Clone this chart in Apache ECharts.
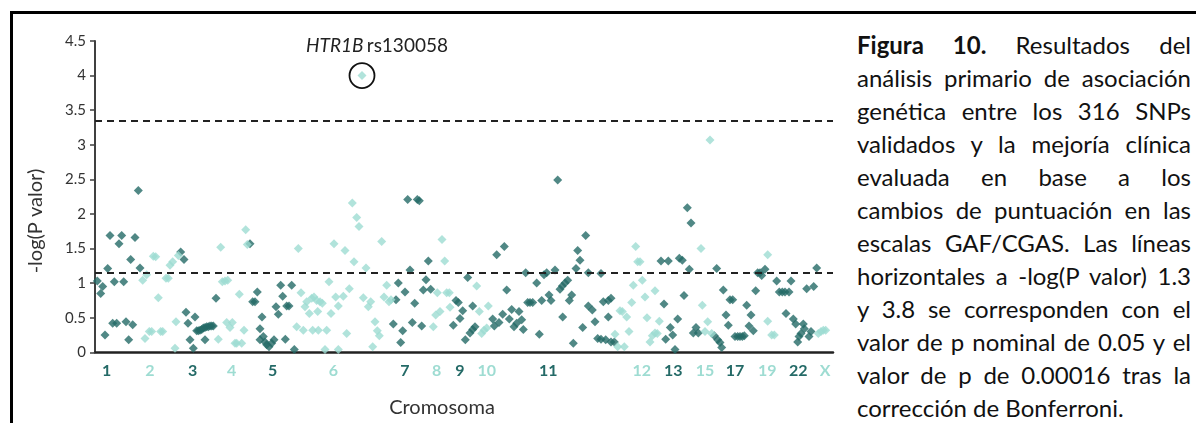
<!DOCTYPE html>
<html>
<head>
<meta charset="utf-8">
<script src="https://cdn.jsdelivr.net/npm/echarts@6/dist/echarts.min.js"></script>
<style>
  html, body { margin: 0; padding: 0; width: 1196px; height: 423px; overflow: hidden; background: #fff; }
  #frame { position: absolute; left: 10px; top: 11px; width: 1400px; height: 600px;
           border-top: 3px solid #000; border-left: 3px solid #000; }
  #chart { position: absolute; left: 0; top: 0; width: 850px; height: 423px; }
  #caption { position: absolute; left: 857px; top: 28px; width: 334px;
             font-family: Lato, sans-serif; font-size: 24px; line-height: 33px; color: #111; }
  #caption div { text-align: justify; text-align-last: justify; white-space: nowrap; }
  #caption div.last { text-align: left; text-align-last: left; }
</style>
</head>
<body>
<div id="frame"></div>
<div id="chart"></div>
<div id="caption">
  <div><b>Figura 10.</b> Resultados del</div>
  <div>análisis primario de asociación</div>
  <div>genética entre los 316 SNPs</div>
  <div>validados y la mejoría clínica</div>
  <div>evaluada en base a los</div>
  <div>cambios de puntuación en las</div>
  <div>escalas GAF/CGAS. Las líneas</div>
  <div>horizontales a -log(P valor) 1.3</div>
  <div>y 3.8 se corresponden con el</div>
  <div>valor de p nominal de 0.05 y el</div>
  <div>valor de p de 0.00016 tras la</div>
  <div class="last">corrección de Bonferroni.</div>
</div>
<script>
// Genome-wide position (cumulative, arbitrary units) and -log(P) for each SNP,
// split by the alternating chromosome shade.
const topSnp = [267, 4.0];   // HTR1B rs130058

const darkSnps = [
  // chr 1
  [2.3,1.03],[5.7,0.85],[7.7,0.95],[10,0.25],[12.7,1.21],[15,1.69],[17.7,0.42],[19.3,1.02],
  [21.7,0.42],[24,1.57],[26.7,1.69],[28.7,1.02],[31,0.44],[33.7,0.18],[35.7,1.34],[37.7,0.40],
  [40,1.66],[43.3,2.34],[45,1.22],
  // chr 3
  [85.7,1.45],[89,1.34],[91,0.58],[93,0.42],[95,0.18],[98.3,0.06],[100,0.51],[101.7,0.31],
  [103.3,0.31],[105,0.32],[106.7,0.33],[108.3,0.35],[110,0.36],[110,0.18],[111.7,0.37],
  [113.3,0.37],[115,0.38],[116.7,0.38],[118.3,0.38],[121,0.78],
  // chr 5
  [155,1.57],[157.7,0.73],[160,0.73],[162.3,0.87],[165,0.34],[165,0.18],[167,0.51],[168.3,0.23],
  [170,0.15],[171.7,0.11],[174,0.08],[176.7,0.13],[179,0.18],[181,0.66],[183.3,0.55],
  [185.7,0.97],[187.7,0.81],[190.3,0.19],[191.7,0.67],[194,0.67],[196.7,0.97],[199.3,0.04],
  // chr 7
  [298.3,0.41],[301,0.76],[303.3,1.0],[305.7,0.14],[307.7,0.31],[310,0.87],[312.7,2.21],
  [315,1.19],[317.3,0.43],[319.7,0.71],[322.3,2.21],[324.3,2.19],[326.7,0.38],[328.3,0.9],
  [331,1.05],[333.3,1.32],[335.7,0.91],
  // chr 9
  [358.3,0.39],[361,0.75],[363.3,0.72],[365,0.49],[367.7,0.6],[370.3,0.18],[372.7,1.08],
  [375,0.28],[377.7,0.33],[377.7,0.67],[380,0.37],
  // chr 11
  [397.7,0.48],[399.3,0.38],[401.7,1.41],[404,0.43],[407.7,0.55],[409.3,1.53],[411.7,0.9],
  [414.3,0.48],[416.7,0.62],[419,0.37],[421.7,0.42],[424,0.59],[426.7,0.47],[428.3,0.33],
  [430.7,1.15],[432.7,0.72],[435,0.72],[437.7,0.72],[441.7,1.0],[444.3,0.26],[446.7,0.75],
  [449,1.12],[451.7,1.15],[454,0.83],[456,0.75],[460,1.19],[462.7,2.49],[465,0.91],
  [467.3,0.96],[467.7,0.51],[470,1.0],[472.7,1.04],[474.3,0.75],[476.7,0.83],[478.3,0.13],
  [481,1.21],[482.7,1.47],[485,1.33],[487.7,0.36],[490.7,1.69],[493.3,0.67],[493.3,1.15],
  [497.3,0.61],[500,0.44],[502.7,0.2],[506,1.14],[506,0.19],[508.3,0.73],[510.7,0.18],
  [513.3,0.51],[513.3,0.75],[516,0.78],[516,0.15],[519.3,0.15],
  // chr 13
  [566,1.32],[569,0.7],[570.7,0.19],[573.3,1.32],[575.3,0.36],[577.7,0.25],[580,0.04],
  [582.7,0.48],[584.3,1.36],[587.3,1.33],[589,0.82],[592.3,2.09],[594.3,1.2],[596,1.87],
  [598.3,0.28],[601,0.36],[603.3,0.28],
  // chr 16-18
  [619.3,0.24],[621.7,1.21],[622.7,0.18],[625,0.14],[626.7,0.07],[628.3,0.9],[631,0.54],
  [633.3,0.39],[635,0.76],[637.7,0.76],[640,0.23],[642.7,0.23],[645,0.23],[647.3,0.23],
  [649.3,0.24],[651.7,0.68],[654,0.38],[656,0.54],[658.3,0.31],[660.7,0.89],[662.7,1.15],
  [665,1.15],[666.7,1.11],[670,1.2],
  // chr 20-22
  [681.7,1.03],[684.3,0.87],[687.3,0.87],[690,0.87],[691,0.56],[694,0.87],[696,1.03],
  [698.3,0.48],[700.7,0.41],[702.7,0.15],[704,0.23],[706,0.27],[708.3,0.41],[709.3,0.34],
  [711.7,0.92],[714,0.23],[716,0.3],[718.7,0.95],[721.7,1.22]
];

const lightSnps = [
  // chr 2
  [47.7,1.04],[50,0.2],[51.7,1.12],[54.3,0.3],[56.7,0.3],[58.3,1.39],[60.7,1.38],[63.3,0.79],
  [65.7,0.3],[67.7,0.3],[71,1.07],[73.3,1.07],[75,1.26],[77.7,1.31],[80,0.06],[81,0.44],[83.3,1.4],
  // chr 4
  [123.3,0.19],[125.7,1.52],[127.3,1.02],[130,1.03],[131.7,0.43],[132.7,1.04],[135,0.36],
  [137.3,0.43],[140,0.13],[141.7,0.13],[144.3,0.84],[146.7,0.13],[149,0.32],[150.7,1.77],[152.3,1.56],
  // chr 6
  [201.7,0.37],[203.3,1.5],[206,0.86],[208.3,0.32],[210,0.66],[211.7,0.73],[214.3,0.56],
  [216.7,0.78],[217.7,0.32],[219,0.8],[221.7,0.75],[222.7,0.59],[223.3,0.32],[225,0.73],
  [227.3,0.71],[230,0.04],[231.7,0.32],[234,1.02],[236,0.56],[239,1.57],[240.7,0.8],
  [243.3,0.67],[243.3,0.04],[248.3,0.81],[250,1.47],[251.7,0.27],[254.3,0.92],[257.3,2.16],
  [259,1.31],[261.7,1.95],[264,1.82],topSnp,[268.3,0.79],[271,1.22],[273.3,0.66],[275.7,0.73],
  [277.7,0.08],[280,0.44],[282.3,0.31],[284.3,0.24],[286.7,1.6],[289,0.8],[291.7,0.97],
  [294,0.73],[296,0.76],
  // chr 8
  [338.3,0.37],[340.7,0.54],[342.3,0.86],[345,0.59],[347,1.63],[349.7,1.32],[351.7,0.86],
  [354.3,0.86],[355,0.65],
  // chr 10
  [381.7,0.96],[384.3,0.59],[386.7,0.27],[389,0.32],[391.7,0.35],[393.3,0.67],
  // chr 12
  [520,0.26],[522.7,0.08],[525,0.6],[527.3,0.59],[529.3,0.08],[531.7,0.51],[534,0.3],
  [536.7,0.72],[538.3,0.97],[540.7,1.53],[542.7,1.31],[545,1.31],[547.3,1.04],[550,0.8],
  [552,0.5],[555,0.15],[557.3,0.24],[560,0.28],[560,0.89],[562.3,0.27],[564.3,0.45],
  // chr 14-15
  [606,1.5],[607.3,0.68],[610,0.3],[612.7,0.44],[615,3.07],[616.7,0.27],
  // chr 19
  [672.7,1.41],[672.7,0.45],[676.7,0.25],[679.3,0.25],
  // chr X
  [723.3,0.27],[726,0.3],[728.3,0.32],[730.7,0.32]
];

// Chromosome tick labels and their centres on the position axis
const chrNames   = ['1','2','3','4','5','6','7','8','9','10','11','12','13','15','17','19','22','X'];
const chrCenters = [11.7,55,97.7,136.7,177.7,238.3,310,341.7,365,391.7,453.3,546.7,578.3,610,640,672.3,703.3,730];

// Significance thresholds drawn as dashed lines
const thresholds = [1.15, 3.35];

const DARK = '#246a67';
const LIGHT = '#9edcd2';
const FONT = 'Lato';

const chart = echarts.init(document.getElementById('chart'));
chart.setOption({
  animation: false,
  grid: { left: 95, top: 41, width: 738, height: 311.3 },
  xAxis: {
    type: 'value', min: 0, max: 738,
    axisLine: { show: true, lineStyle: { color: '#222', width: 2.5 } },
    axisTick: { show: false },
    splitLine: { show: false },
    axisLabel: {
      customValues: chrCenters,
      margin: 11,
      formatter: function (v) {
        const i = chrCenters.indexOf(v);
        if (i < 0) return '';
        return '{' + (i % 2 ? 'l' : 'd') + '|' + chrNames[i] + '}';
      },
      rich: {
        d: { color: DARK, fontWeight: 'bold', fontSize: 16, fontFamily: FONT },
        l: { color: LIGHT, fontWeight: 'bold', fontSize: 16, fontFamily: FONT }
      }
    }
  },
  yAxis: {
    type: 'value', min: 0, max: 4.5, interval: 0.5,
    axisLine: { show: true, lineStyle: { color: '#404040', width: 2 } },
    axisTick: { show: true, length: 5, lineStyle: { color: '#404040', width: 1.5 } },
    splitLine: { show: false },
    axisLabel: { color: '#333', fontSize: 15, fontFamily: FONT, margin: 9 }
  },
  graphic: [
    { type: 'text', x: 36, y: 221, rotation: Math.PI / 2,
      style: { text: '-log(P valor)', fill: '#333', font: '20px Lato', align: 'center', verticalAlign: 'middle' } },
    { type: 'text', x: 442, y: 408,
      style: { text: 'Cromosoma', fill: '#333', font: '20px Lato', align: 'center', verticalAlign: 'middle' } }
  ],
  series: [
    {
      type: 'scatter', name: 'dark', data: darkSnps,
      symbol: 'diamond', symbolSize: 9,
      itemStyle: { color: DARK },
      markLine: {
        silent: true, symbol: 'none', label: { show: false },
        lineStyle: { color: '#222', width: 2, type: [7, 5] },
        data: thresholds.map(function (t) { return { yAxis: t }; })
      }
    },
    {
      type: 'scatter', name: 'light', data: lightSnps,
      symbol: 'diamond', symbolSize: 9,
      itemStyle: { color: LIGHT },
      markPoint: {
        silent: true,
        symbol: 'circle', symbolSize: 25,
        itemStyle: { color: 'rgba(0,0,0,0)', borderColor: '#111', borderWidth: 1.8 },
        label: {
          show: true, position: 'inside', offset: [15, -30],
          formatter: '{i|HTR1B} {n|rs130058}',
          rich: {
            i: { fontStyle: 'italic', fontSize: 19, color: '#222', fontFamily: FONT },
            n: { fontSize: 19, color: '#222', fontFamily: FONT }
          }
        },
        data: [{ coord: topSnp }]
      }
    }
  ]
});
</script>
</body>
</html>
